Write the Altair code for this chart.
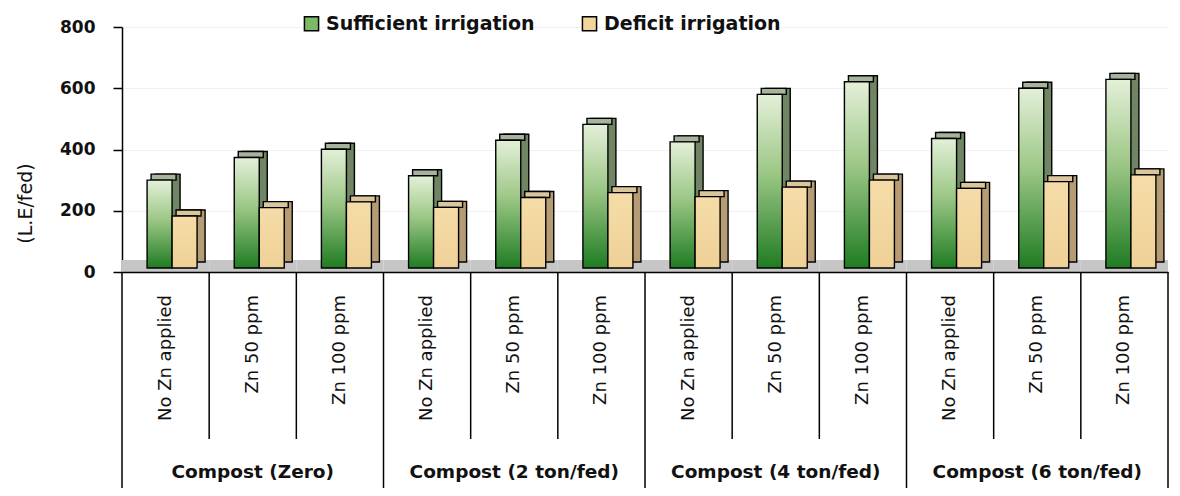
import altair as alt
import pandas as pd

# ---- data ----
groups = ["Compost (Zero)", "Compost (2 ton/fed)", "Compost (4 ton/fed)", "Compost (6 ton/fed)"]
zn_levels = ["No Zn applied", "Zn 50 ppm", "Zn 100 ppm"]
series_names = ["Sufficient irrigation", "Deficit irrigation"]
sufficient = [287, 361, 388, 301, 417, 469, 412, 567, 608, 423, 587, 616]
deficit = [170, 197, 216, 198, 230, 246, 233, 264, 287, 260, 282, 304]
y_ticks = [0, 200, 400, 600, 800]

treat = [f"{g} | {z}" for g in groups for z in zn_levels]
cats = pd.DataFrame({
    "treat": treat,
    "zn": [z for g in groups for z in zn_levels],
    "group": [g for g in groups for z in zn_levels],
    "idx": list(range(len(treat))),
})
rows = []
for s, vals in zip(series_names, [sufficient, deficit]):
    for t, v in zip(treat, vals):
        rows.append({"treat": t, "series": s, "value": v, "zero": 0})
df = pd.DataFrame(rows)

W, H = 1046, 245
FONT = "DejaVu Sans"

xaxis = alt.Axis(labels=False, ticks=False, title=None, grid=False,
                 domain=True, domainColor="black", domainWidth=1.5)
xscale = alt.Scale(domain=treat, paddingInner=0, paddingOuter=0)


def xe(bp=None):
    if bp is None:
        return alt.X("treat:N", sort=treat, scale=xscale, axis=xaxis)
    return alt.X("treat:N", sort=treat, scale=xscale, axis=xaxis, bandPosition=bp)


yaxis = alt.Axis(values=y_ticks, title="(L.E/fed)", labelFont=FONT, labelFontWeight="bold",
                 labelFontSize=17, labelColor="#111", tickColor="black", tickSize=9,
                 tickWidth=1.5, domainColor="black", domainWidth=1.5, labelPadding=18,
                 titleFont=FONT, titleFontSize=19, titleFontWeight="normal", titleColor="#111",
                 titleAngle=270, titleX=-97, titleY=176, titleAlign="center",
                 titleBaseline="middle", grid=True, gridColor="#f1f1f1", gridWidth=1)
yscale = alt.Scale(domain=[0, 800], nice=False)
ye = alt.Y("value:Q", scale=yscale, axis=yaxis)

green_grad = {"gradient": "linear", "x1": 0, "y1": 0, "x2": 0, "y2": 1,
              "stops": [{"offset": 0, "color": "#e4f0d9"},
                        {"offset": 0.45, "color": "#9cc786"},
                        {"offset": 1, "color": "#1f7c22"}]}
beige_grad = {"gradient": "linear", "x1": 0, "y1": 0, "x2": 0, "y2": 1,
              "stops": [{"offset": 0, "color": "#f5dca8"},
                        {"offset": 1, "color": "#efd197"}]}


def bar_layers(sname, ox, front_fill, side_col, cap_col):
    base = alt.Chart(df).transform_filter(alt.datum.series == sname)
    common = dict(size=25, stroke="black", strokeWidth=1.4)
    side = base.mark_bar(fill=side_col, xOffset=ox + 8, yOffset=-10, y2Offset=-10, **common).encode(
        x=xe(), y=ye, y2="zero:Q")
    cap = base.mark_bar(fill=cap_col, xOffset=ox + 4, yOffset=-10, y2Offset=-4, **common).encode(
        x=xe(), y=ye, y2=alt.Y2("value:Q"))
    front = base.mark_bar(fill=front_fill, xOffset=ox, yOffset=-4, y2Offset=-4, **common).encode(
        x=xe(), y=ye, y2="zero:Q")
    return [side, cap, front]


floor = alt.Chart(cats).mark_rect(color="#c6c6c6").encode(
    x=xe(), y=alt.value(H - 12), y2=alt.value(H))

layers = [floor]
layers += bar_layers(series_names[0], -6, green_grad, "#6f8563", "#a6b49b")
layers += bar_layers(series_names[1], 19, beige_grad, "#b59c74", "#d9c69c")

inner_rules = alt.Chart(cats).transform_filter("datum.idx % 3 != 0").mark_rule(
    color="black", strokeWidth=1.5).encode(x=xe(0), y=alt.value(H), y2=alt.value(H + 167))
group_rules = alt.Chart(cats).transform_filter("datum.idx % 3 == 0").mark_rule(
    color="black", strokeWidth=1.5).encode(x=xe(0), y=alt.value(H), y2=alt.value(H + 216))
end_rule = alt.Chart(cats).transform_filter(f"datum.idx == {len(treat) - 1}").mark_rule(
    color="black", strokeWidth=1.5).encode(x=xe(1), y=alt.value(H), y2=alt.value(H + 216))

zn_text = alt.Chart(cats).mark_text(angle=270, align="right", baseline="middle", font=FONT,
                                    fontSize=18, color="#111").encode(
    x=xe(), y=alt.value(H + 23), text="zn:N")
group_text = alt.Chart(cats).transform_filter("datum.idx % 3 == 1").mark_text(
    font=FONT, fontSize=18.5, fontWeight="bold", baseline="alphabetic", color="#111").encode(
    x=xe(), y=alt.value(H + 206), text="group:N")

legend_layer = alt.Chart(df).mark_square(opacity=0, size=10).encode(
    x=xe(), y=alt.value(H),
    color=alt.Color("series:N", sort=series_names,
                    scale=alt.Scale(domain=series_names, range=["#7cba67", "#f1d59a"]),
                    legend=alt.Legend(orient="none", legendX=180, legendY=-13,
                                      direction="horizontal", title=None, symbolType="square",
                                      symbolSize=200, symbolStrokeColor="black",
                                      symbolStrokeWidth=1.5, symbolOpacity=1,
                                      labelFont=FONT, labelFontSize=19, labelFontWeight="bold",
                                      labelColor="#111", labelOffset=5, columnPadding=44,
                                      labelLimit=400, padding=0)))

layers += [inner_rules, group_rules, end_rule, zn_text, group_text, legend_layer]

chart = alt.layer(*layers).properties(
    width=W, height=H,
    autosize=alt.AutoSizeParams(type="none"),
    padding={"left": 114, "top": 19, "right": 3, "bottom": 216},
).configure_view(stroke=None)

chart.save("out.html", embed_options={"renderer": "svg", "actions": False})
